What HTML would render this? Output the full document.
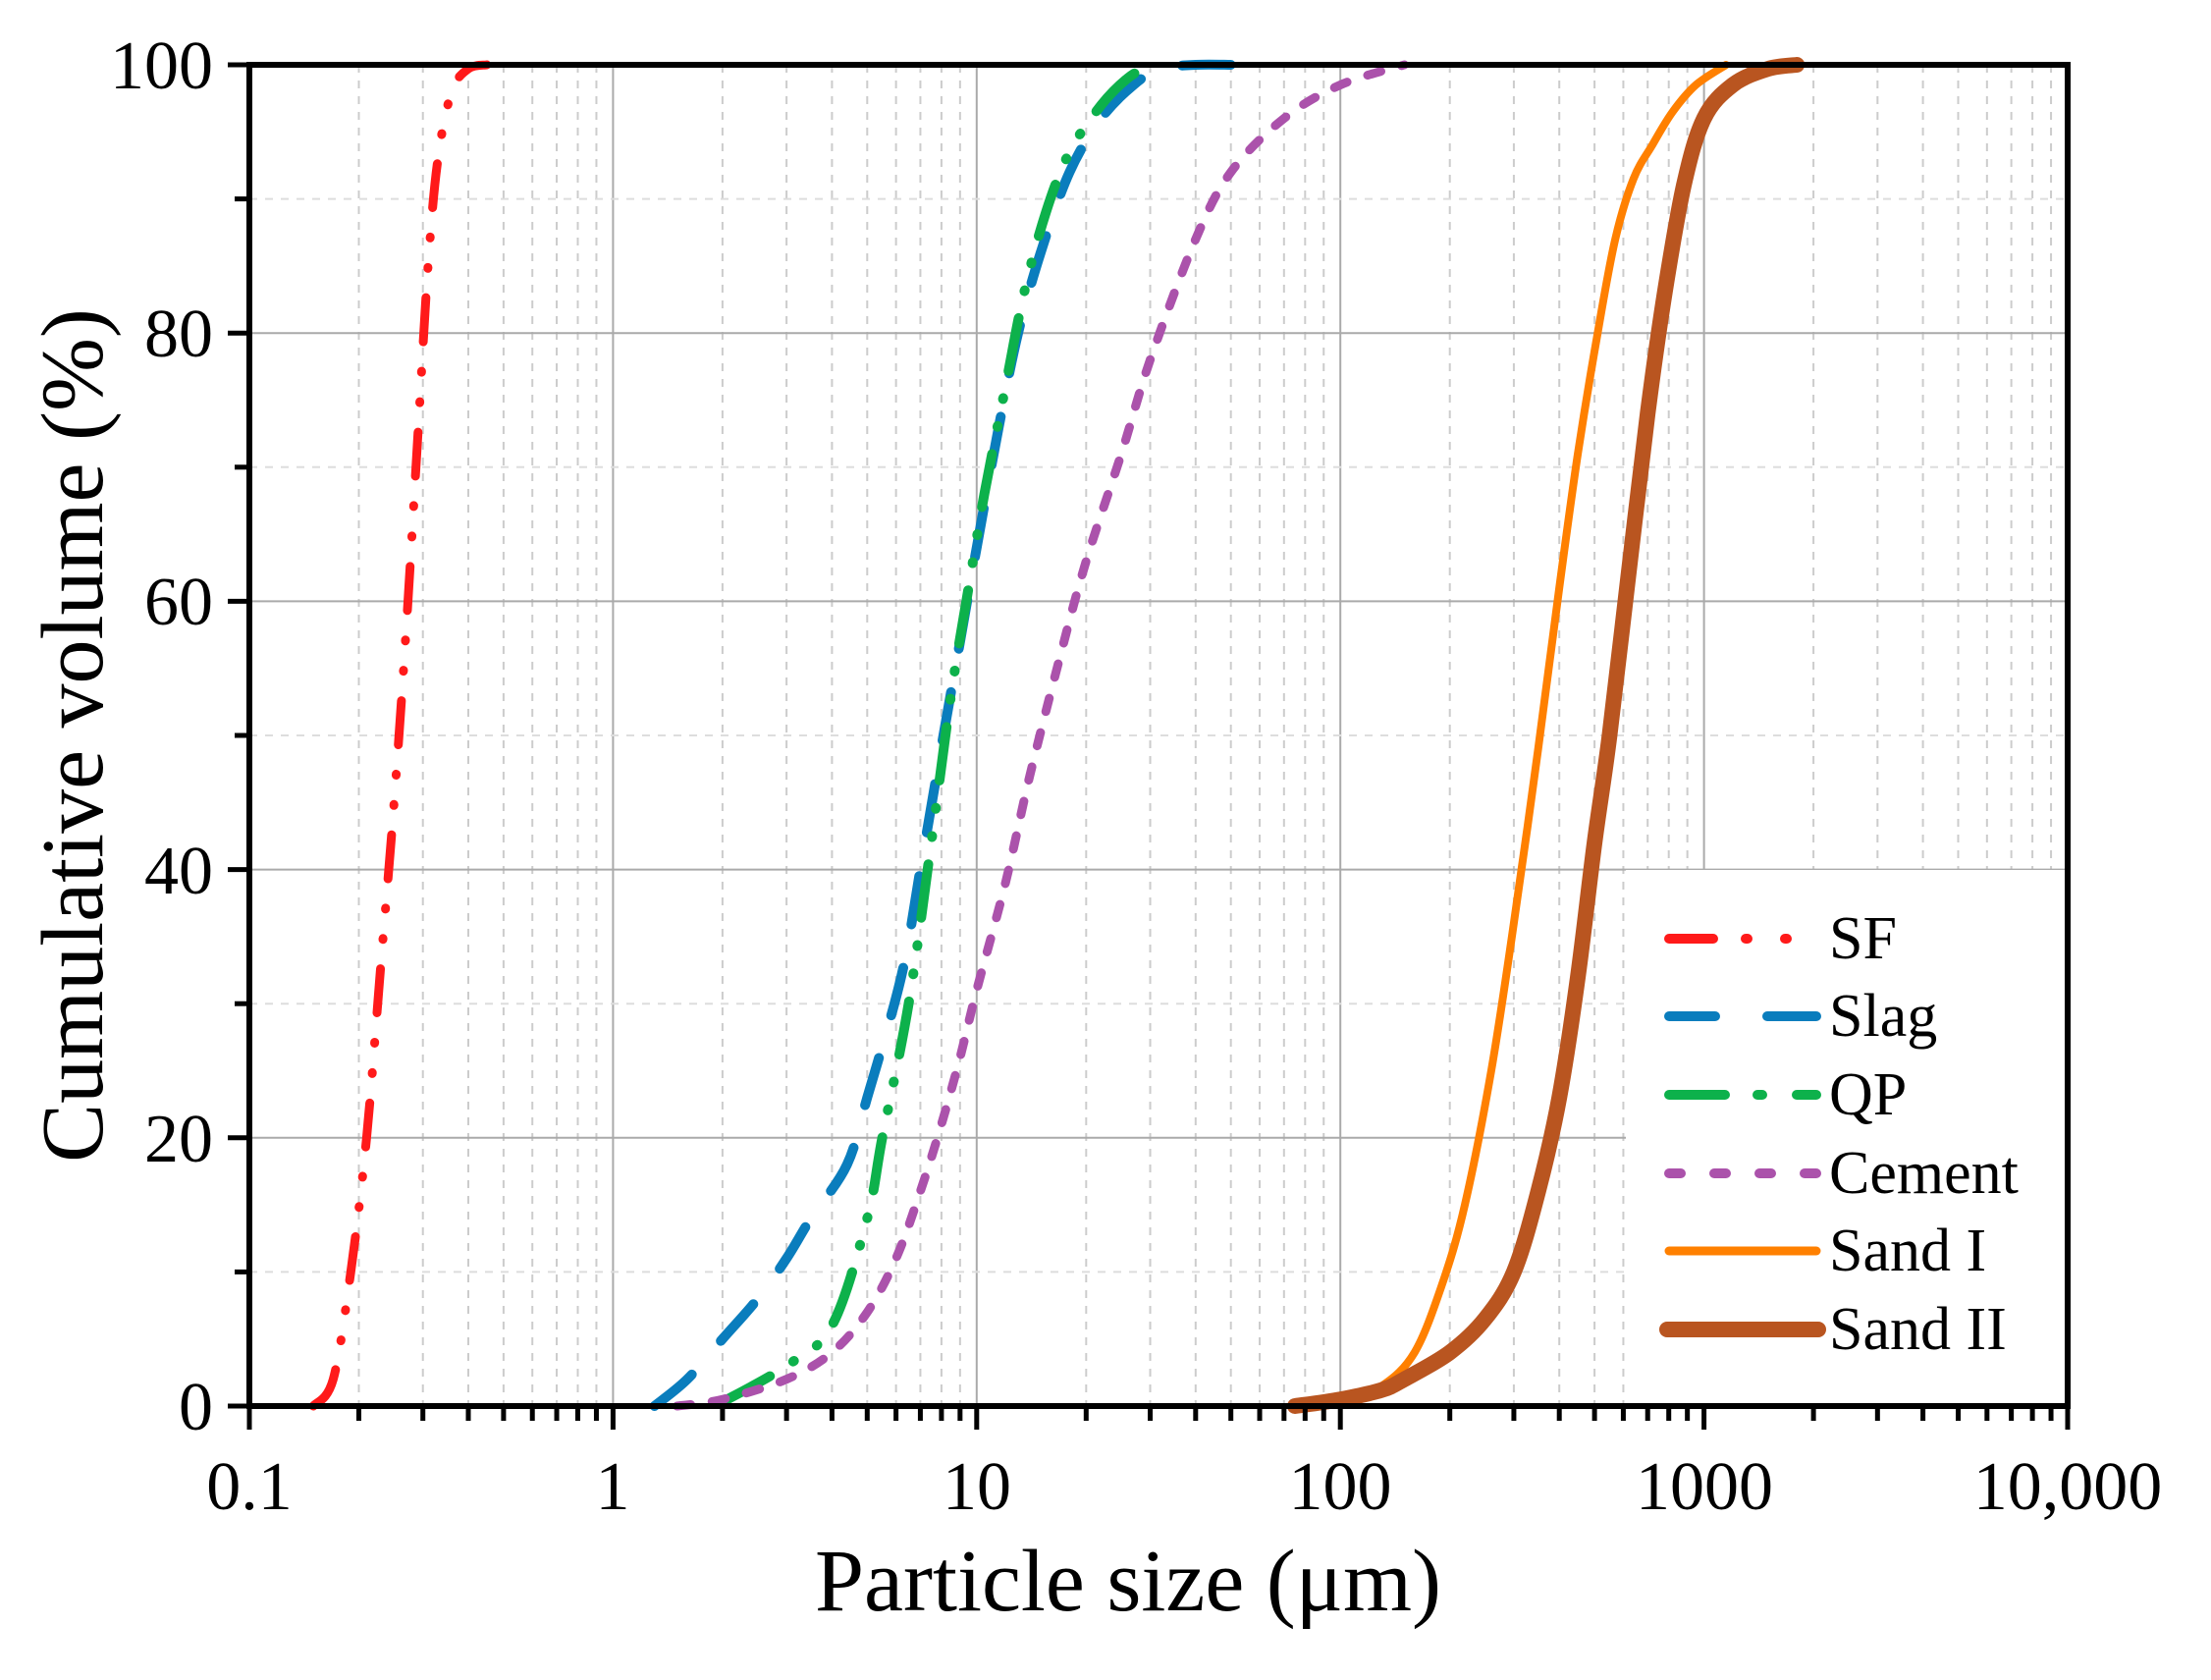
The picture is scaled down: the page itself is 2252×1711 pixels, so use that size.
<!DOCTYPE html>
<html><head><meta charset="utf-8"><style>
html,body{margin:0;padding:0;background:#fff;}
svg{display:block;font-family:"Liberation Serif",serif;}
</style></head><body>
<svg id="s" width="2252" height="1711" viewBox="0 0 2252 1711" xmlns="http://www.w3.org/2000/svg">
<g id="grid"></g>
<rect x="1656" y="886" width="448" height="544" fill="#fff"/>
<g id="curves" fill="none" stroke-linejoin="round"></g>
<g id="axes"></g>
<g font-size="62" fill="#000">
<text x="1863" y="976">SF</text>
<text x="1863" y="1055">Slag</text>
<text x="1863" y="1135">QP</text>
<text x="1863" y="1215">Cement</text>
<text x="1863" y="1294">Sand I</text>
<text x="1863" y="1374">Sand II</text>
</g>
<g stroke-linecap="round" fill="none">
<path d="M1700 956H1745M1778 956H1780M1818 956H1820" stroke="#ff1a1a" stroke-width="10"/>
<path d="M1700 1035H1747M1800 1035H1850" stroke="#0a7dbd" stroke-width="10"/>
<path d="M1700 1115H1757M1790 1115H1795M1830 1115H1850" stroke="#0db14b" stroke-width="10"/>
<path d="M1700 1195H1712M1746 1195H1758M1792 1195H1804M1838 1195H1850" stroke="#ab52ab" stroke-width="10"/>
<path d="M1700 1274H1850" stroke="#ff8000" stroke-width="9"/>
<path d="M1698 1354H1852" stroke="#b95520" stroke-width="16"/>
</g>
<g font-size="70" fill="#000">
<text x="217" y="90" text-anchor="end">100</text>
<text x="217" y="363" text-anchor="end">80</text>
<text x="217" y="636" text-anchor="end">60</text>
<text x="217" y="910" text-anchor="end">40</text>
<text x="217" y="1183" text-anchor="end">20</text>
<text x="217" y="1456" text-anchor="end">0</text>
<text x="254" y="1537" text-anchor="middle">0.1</text>
<text x="624" y="1537" text-anchor="middle">1</text>
<text x="995" y="1537" text-anchor="middle">10</text>
<text x="1365" y="1537" text-anchor="middle">100</text>
<text x="1736" y="1537" text-anchor="middle">1000</text>
<text x="2106" y="1537" text-anchor="middle">10,000</text>
</g>
<text x="1149" y="1640" font-size="90" text-anchor="middle">Particle size (μm)</text>
<text transform="translate(104,749) rotate(-90)" font-size="90" text-anchor="middle">Cumulative volume (%)</text>
</svg>
<script>
var L=254,R=2106,T=66,B=1432,D=(R-L)/5;
function X(d){return L+(Math.log10(d)+1)*D;}
function Y(p){return B-p*(B-T)/100;}
var ns="http://www.w3.org/2000/svg";
function el(par,tag,at){var e=document.createElementNS(ns,tag);for(var k in at)e.setAttribute(k,at[k]);document.getElementById(par).appendChild(e);return e;}
for(var e=-1;e<4;e++){for(var m=2;m<10;m++){var x=X(m*Math.pow(10,e));el("grid","line",{x1:x,x2:x,y1:T,y2:B,stroke:"#ccc","stroke-width":2,"stroke-dasharray":"8,8"});el("axes","line",{x1:x,x2:x,y1:B,y2:B+15,stroke:"#000","stroke-width":5});}}
for(var e=0;e<5;e++){var x=X(Math.pow(10,e));el("grid","line",{x1:x,x2:x,y1:T,y2:B,stroke:"#aaa","stroke-width":2});}
for(var p=10;p<100;p+=10){var y=Y(p);if(p%20==0)el("grid","line",{x1:L,x2:R,y1:y,y2:y,stroke:"#aaa","stroke-width":2});else el("grid","line",{x1:L,x2:R,y1:y,y2:y,stroke:"#ddd","stroke-width":2,"stroke-dasharray":"8,8"});}
for(var p=0;p<=100;p+=10){var y=Y(p);el("axes","line",{x1:L-(p%20==0?22:15),x2:L,y1:y,y2:y,stroke:"#000","stroke-width":5});}
for(var e=0;e<=5;e++){var x=L+e*D;el("axes","line",{x1:x,x2:x,y1:B,y2:B+24,stroke:"#000","stroke-width":5});}
el("axes","rect",{x:L,y:T,width:R-L,height:B-T,fill:"none",stroke:"#000","stroke-width":6});
function curve(pts,col,w,dash){var P=pts.map(function(q){return [X(q[0]),Y(q[1])];});var d="M"+P[0][0].toFixed(1)+" "+P[0][1].toFixed(1);
for(var i=0;i<P.length-1;i++){var p0=P[Math.max(0,i-1)],p1=P[i],p2=P[i+1],p3=P[Math.min(P.length-1,i+2)];
var c1=[p1[0]+(p2[0]-p0[0])/6,p1[1]+(p2[1]-p0[1])/6],c2=[p2[0]-(p3[0]-p1[0])/6,p2[1]-(p3[1]-p1[1])/6];
d+="C"+c1[0].toFixed(1)+" "+c1[1].toFixed(1)+" "+c2[0].toFixed(1)+" "+c2[1].toFixed(1)+" "+p2[0].toFixed(1)+" "+p2[1].toFixed(1);}
var a={d:d,stroke:col,"stroke-width":w,"stroke-linecap":"round"};if(dash)a["stroke-dasharray"]=dash;el("curves","path",a);}
curve([[0.15,0],[0.17,2],[0.19,10],[0.21,20],[0.23,33],[0.25,45],[0.27,58],[0.29,72],[0.31,85],[0.33,93],[0.36,98],[0.4,99.7],[0.45,100]],"#ff1a1a",9,"45,30,1,30,1,30");
curve([[1.3,0],[1.6,2],[2,5],[2.5,8],[3,11],[3.5,14],[4.4,18],[5,23],[6.2,32],[7,40],[8.1,50],[9,57],[10,64],[11.5,73],[13,80],[15,86],[18,92],[22,96],[27,98.5],[32,99.7],[40,100],[50,100]],"#0a7dbd",10,"50,45");
curve([[2,0.3],[3,3],[4,6],[5,14],[5.5,20],[6.5,30],[7.5,42],[8.5,53],[9.5,61],[10.5,68],[12,76],[13.5,83],[15.5,89],[18,93.5],[22,97],[26,99],[30,100]],"#0db14b",10,"55,28,1,28,1,28");
curve([[1.5,0],[2,0.5],[3,2],[4,4],[5,7],[6,11],[7,16],[8,21],[9,26],[10,31],[12,39],[14,47],[17,56],[20,63],[25,71],[30,78],[40,87],[50,92],[70,96],[100,98.5],[150,100]],"#ab52ab",9,"14,22");
curve([[75,0],[100,0.3],[130,1.5],[160,4],[190,9],[220,15],[260,25],[300,36],[350,49],[400,61],[450,71],[510,80],[570,87],[640,91.5],[720,94],[820,96.5],[950,98.5],[1150,100]],"#ff8000",8);
curve([[75,0],[100,0.5],[130,1.2],[150,2],[200,4],[250,6.5],[300,10],[350,16],[400,23],[450,32],[500,42],[550,50],[620,62],[700,74],[780,83],[880,91],[1000,96],[1200,98.5],[1500,99.7],[1800,100]],"#b95520",16);
</script>
</body></html>
